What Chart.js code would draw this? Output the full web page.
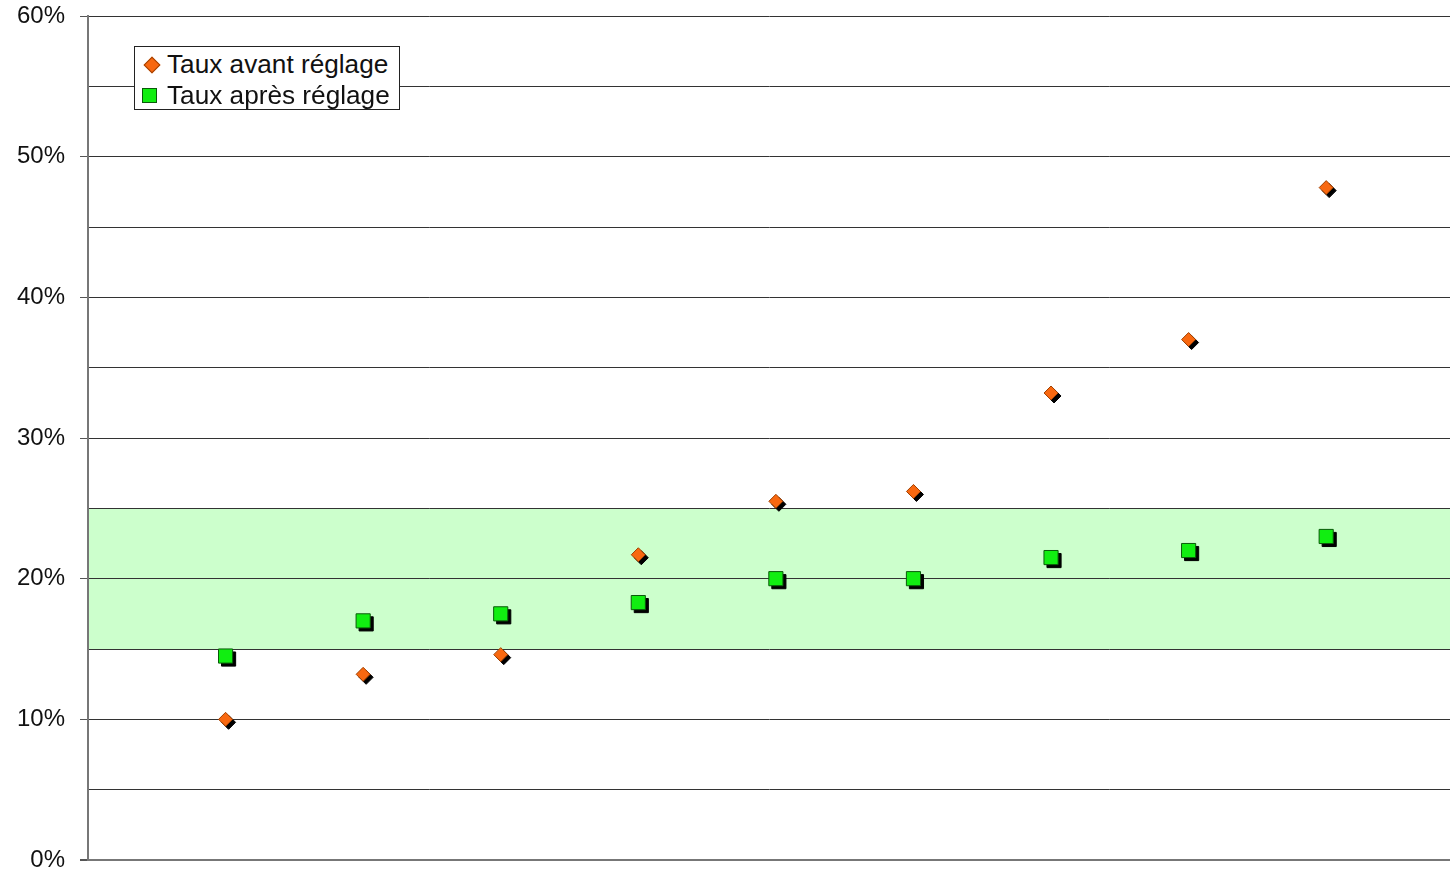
<!DOCTYPE html>
<html>
<head>
<meta charset="utf-8">
<script src="https://cdn.jsdelivr.net/npm/chart.js@4/dist/chart.umd.min.js"></script>
<style>
  html, body { margin: 0; padding: 0; background: #fff; overflow: hidden; }
  #wrap { position: relative; width: 1450px; height: 870px; }
  #legend { position: absolute; left: 134px; top: 46px; width: 266px; height: 64px;
    border: 1px solid #222; background: #fff; font-family: "Liberation Sans", Arial, sans-serif;
    font-size: 26.2px; color: #111; box-sizing: border-box; padding-top: 2px; }
  .row { height: 31px; line-height: 31px; position: relative; padding-left: 32px; white-space: nowrap; }
  .dia { position: absolute; left: 11px; top: 10px; width: 10px; height: 10px; background: #f86810;
    border: 1px solid #a04000; transform: rotate(45deg); }
  .sq { position: absolute; left: 7px; top: 8px; width: 15px; height: 15px; background: #11ee11;
    border: 1px solid #0a5a0a; box-sizing: border-box; }
</style>
</head>
<body>
<div id="wrap">
<canvas id="c" width="1450" height="870"></canvas>
<div id="legend">
  <div class="row"><span class="dia"></span>Taux avant réglage</div>
  <div class="row"><span class="sq"></span>Taux après réglage</div>
</div>
</div>
<script>
const positions = [1, 2, 3, 4, 5, 6, 7, 8, 9];
const tauxAvant = [10.0, 13.2, 14.6, 21.7, 25.5, 26.2, 33.2, 37.0, 47.8];
const tauxApres = [14.5, 17.0, 17.5, 18.3, 20.0, 20.0, 21.5, 22.0, 23.0];
const bandLow = 15;
const bandHigh = 25;
const yTicks = [0, 10, 20, 30, 40, 50, 60];

const bandPlugin = {
  id: 'band',
  beforeDraw(chart) {
    const { ctx, chartArea, scales } = chart;
    const yTop = scales.y.getPixelForValue(bandHigh);
    const yBot = scales.y.getPixelForValue(bandLow);
    ctx.save();
    ctx.fillStyle = '#ccffcc';
    ctx.fillRect(chartArea.left, yTop, chartArea.right - chartArea.left, yBot - yTop);
    ctx.restore();
  }
};
const shadowPlugin = {
  id: 'shadow',
  beforeDatasetsDraw(chart) {
    const ctx = chart.ctx;
    ctx.save();
    ctx.fillStyle = '#000';
    ctx.strokeStyle = '#000';
    ctx.lineWidth = 1;
    chart.data.datasets.forEach((ds, di) => {
      const meta = chart.getDatasetMeta(di);
      meta.data.forEach((el) => {
        Chart.helpers.drawPoint(ctx, { pointStyle: ds.pointStyle, radius: ds.pointRadius, rotation: 0, borderWidth: 1 }, el.x + 3, el.y + 3);
      });
    });
    ctx.restore();
  }
};

new Chart(document.getElementById('c'), {
  type: 'scatter',
  data: {
    datasets: [
      {
        label: 'Taux avant réglage',
        data: positions.map((x, i) => ({ x: x, y: tauxAvant[i] })),
        pointStyle: 'rectRot',
        pointRadius: 7,
        backgroundColor: '#f86810',
        borderColor: '#a04000',
        borderWidth: 1,
        clip: false
      },
      {
        label: 'Taux après réglage',
        data: positions.map((x, i) => ({ x: x, y: tauxApres[i] })),
        pointStyle: 'rect',
        pointRadius: 10,
        backgroundColor: '#11ee11',
        borderColor: '#0a5a0a',
        borderWidth: 1,
        clip: false
      }
    ]
  },
  options: {
    responsive: false,
    animation: false,
    layout: { autoPadding: false, padding: { top: 16, bottom: 10, left: 0, right: 0 } },
    plugins: { legend: { display: false }, tooltip: { enabled: false } },
    scales: {
      x: { type: 'linear', min: 0, max: 9.9, display: false },
      y: {
        min: 0, max: 60,
        afterFit(scale) { scale.width = 88; },
        ticks: {
          stepSize: 5,
          padding: 0,
          color: '#111',
          font: { family: '"Liberation Sans", Arial, sans-serif', size: 24, lineHeight: 0.8 },
          callback: (v) => (yTicks.includes(v) ? v + '%' : '')
        },
        grid: {
          color: (ctx) => (ctx.tick && ctx.tick.value === 0 ? '#777' : '#333'),
          lineWidth: (ctx) => (ctx.tick && ctx.tick.value === 0 ? 2 : 1),
          tickLength: 23,
          tickBorderDash: [0, 15, 8, 0],
          tickColor: (ctx) => (ctx.tick && yTicks.includes(ctx.tick.value) ? '#555' : 'rgba(0,0,0,0)')
        },
        border: { color: '#777', width: 2 }
      }
    }
  },
  plugins: [bandPlugin, shadowPlugin]
});
</script>
</body>
</html>
